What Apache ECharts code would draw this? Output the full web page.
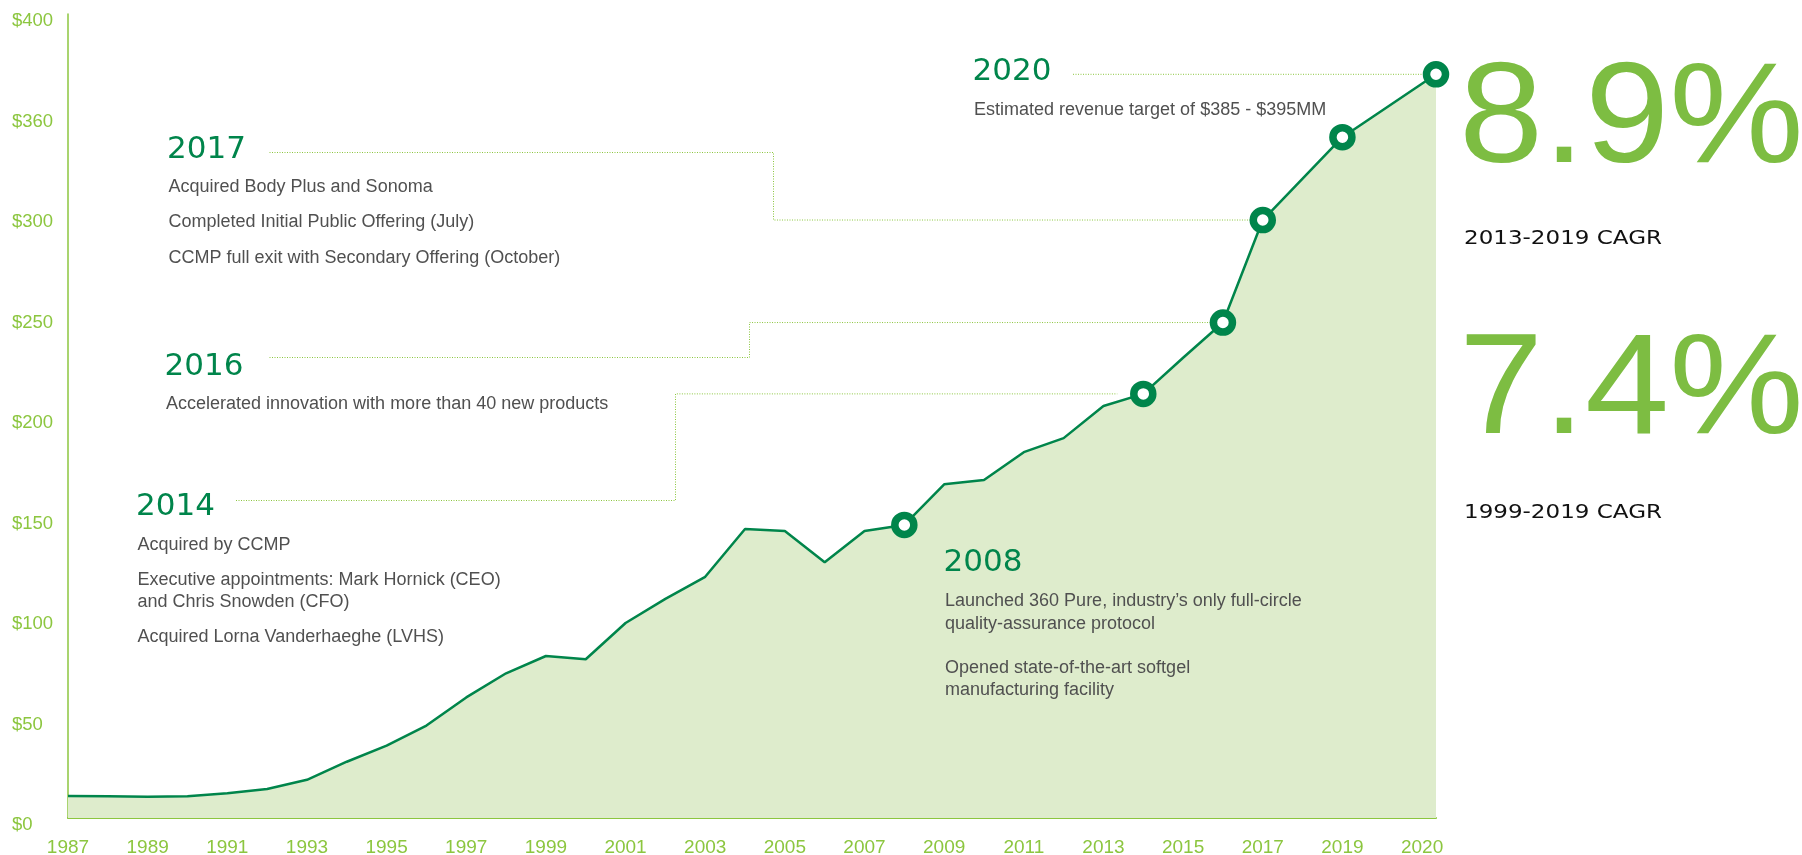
<!DOCTYPE html>
<html>
<head>
<meta charset="utf-8">
<title>Revenue history</title>
<script src="https://cdn.jsdelivr.net/npm/echarts/dist/echarts.min.js"></script>
<style>
html, body { margin: 0; padding: 0; background: #fff; }
#chart { width: 1802px; height: 855px; }
</style>
</head>
<body>
<div id="chart"></div>
<script>
// revenue by year ($MM). the 2020 estimate sits past the 2019 tick in the source, so its x is 2021.35
var years = [1987, 1988, 1989, 1990, 1991, 1992, 1993, 1994, 1995, 1996, 1997, 1998, 1999, 2000,
             2001, 2002, 2003, 2004, 2005, 2006, 2007, 2008, 2009, 2010, 2011, 2012, 2013, 2014,
             2015, 2016, 2017, 2019, 2021.35];
var revenue = [10.9, 10.8, 10.6, 10.8, 12.3, 14.4, 19, 28, 36, 46, 60, 72, 80.6, 79,
               97, 109, 120, 143.8, 142.8, 127.2, 142.8, 145.8, 166, 168.2, 182, 189, 205, 211,
               229, 246.5, 297.5, 338.7, 370];
// points drawn with a ring marker
var milestoneYears = [2008, 2014, 2016, 2017, 2019, 2021.35];

var xTickLabels = ['1987', '1989', '1991', '1993', '1995', '1997', '1999', '2001', '2003',
                   '2005', '2007', '2009', '2011', '2013', '2015', '2017', '2019', '2020'];
var yTickLabels = ['$0', '$50', '$100', '$150', '$200', '$250', '$300', '$360', '$400'];

var lightGreen = '#8CC63F';
var darkGreen = '#00854B';
var bodyFont = '"Liberation Sans", Arial, sans-serif';
var headFont = '"DejaVu Sans", "Liberation Sans", sans-serif';

// annotation blocks
var notes = [
  { head: '2017', hx: 167, hy: 149.5, bx: 168.5, lines: [
      ['Acquired Body Plus and Sonoma', 187],
      ['Completed Initial Public Offering (July)', 222],
      ['CCMP full exit with Secondary Offering (October)', 258]] },
  { head: '2016', hx: 164.5, hy: 366.5, bx: 166, lines: [
      ['Accelerated innovation with more than 40 new products', 404]] },
  { head: '2014', hx: 136, hy: 506.5, bx: 137.5, lines: [
      ['Acquired by CCMP', 545],
      ['Executive appointments: Mark Hornick (CEO)', 580],
      ['and Chris Snowden (CFO)', 602],
      ['Acquired Lorna Vanderhaeghe (LVHS)', 637]] },
  { head: '2020', hx: 972.5, hy: 71.5, bx: 974, lines: [
      ['Estimated revenue target of $385 - $395MM', 110]] },
  { head: '2008', hx: 943.5, hy: 563, bx: 945, lines: [
      ['Launched 360 Pure, industry\u2019s only full-circle', 601],
      ['quality-assurance protocol', 624],
      ['Opened state-of-the-art softgel', 668],
      ['manufacturing facility', 690.5]] }
];

var chart = echarts.init(document.getElementById('chart'));

var option = {
  animation: false,
  textStyle: { fontFamily: bodyFont },
  grid: {
    left: 68,
    right: 366,
    top: 14,
    bottom: 37,
    containLabel: false,
    outerBoundsMode: 'none'
  },
  xAxis: {
    type: 'value',
    min: 1987,
    max: years[years.length - 1],
    interval: 2,
    axisLine: { lineStyle: { color: lightGreen, width: 2 } },
    axisTick: { show: false },
    splitLine: { show: false },
    axisLabel: {
      color: lightGreen,
      fontSize: 19,
      margin: 20,
      hideOverlap: false,
      formatter: function (v) {
        var i = (v - 1987) / 2;
        return (Number.isInteger(i) && xTickLabels[i]) ? xTickLabels[i] : '';
      }
    }
  },
  yAxis: {
    type: 'value',
    min: 0,
    max: 400,
    interval: 50,
    axisLine: { show: true, lineStyle: { color: lightGreen, width: 1.5 } },
    axisTick: { show: false },
    splitLine: { show: false },
    axisLabel: {
      color: lightGreen,
      fontSize: 18.5,
      align: 'left',
      verticalAlign: 'top',
      lineHeight: 14,
      margin: 56,
      formatter: function (v) {
        return yTickLabels[Math.round(v / 50)] || '';
      }
    }
  },
  series: [{
    type: 'line',
    data: years.map(function (y, i) { return [y, revenue[i]]; }),
    showSymbol: true,
    symbol: function (val) {
      return milestoneYears.indexOf(val[0]) >= 0 ? 'circle' : 'none';
    },
    symbolSize: 19,
    itemStyle: { color: '#fff', borderColor: darkGreen, borderWidth: 7.5 },
    lineStyle: { color: darkGreen, width: 2.5 },
    areaStyle: { color: '#DEECCC', opacity: 1 },
    emphasis: { disabled: true },
    z: 3
  }]
};

chart.setOption(option);

// texts and dotted connectors
function buildGraphics() {
  var els = [];
  notes.forEach(function (n) {
    els.push({
      type: 'text', x: n.hx, y: n.hy, z: 10,
      style: { text: n.head, fontSize: 31, fontFamily: headFont, fill: darkGreen, verticalAlign: 'middle' }
    });
    n.lines.forEach(function (l) {
      els.push({
        type: 'text', x: n.bx, y: l[1], z: 10,
        style: { text: l[0], fontSize: 18, fontFamily: bodyFont, fill: '#505050', verticalAlign: 'middle' }
      });
    });
  });

  // big CAGR figures
  [['8.9%', 123], ['7.4%', 394]].forEach(function (b) {
    els.push({
      type: 'text', x: 1459, y: b[1], scaleX: 1.065, z: 10,
      style: { text: b[0], fontSize: 142, fontFamily: bodyFont, fill: '#7DBD42', verticalAlign: 'middle' }
    });
  });
  [['2013-2019 CAGR', 239], ['1999-2019 CAGR', 512.5]].forEach(function (c) {
    els.push({
      type: 'text', x: 1464, y: c[1], scaleX: 1.18, z: 10,
      style: { text: c[0], fontSize: 19.5, fontFamily: headFont, fill: '#111', verticalAlign: 'middle' }
    });
  });

  function pt(y) {
    return chart.convertToPixel({ seriesIndex: 0 }, [y, revenue[years.indexOf(y)]]);
  }
  var p17 = pt(2017), p16 = pt(2016), p14 = pt(2014), p20 = pt(2021.35);
  var paths = [
    [[269.5, 152.5], [773.5, 152.5], [773.5, p17[1]], [p17[0], p17[1]]],
    [[269.5, 357.5], [749.5, 357.5], [749.5, p16[1]], [p16[0], p16[1]]],
    [[236, 500.5], [675.5, 500.5], [675.5, p14[1]], [p14[0] - 26, p14[1]]],
    [[1073, p20[1]], [p20[0], p20[1]]]
  ];
  paths.forEach(function (p) {
    els.push({
      type: 'polyline', z: 1,
      shape: { points: p },
      style: { stroke: lightGreen, lineWidth: 1, lineDash: [1, 1.5], fill: null }
    });
  });
  return els;
}

chart.setOption({ graphic: { elements: buildGraphics() } });

window.onresize = function () {
  chart.resize();
};
</script>
</body>
</html>
